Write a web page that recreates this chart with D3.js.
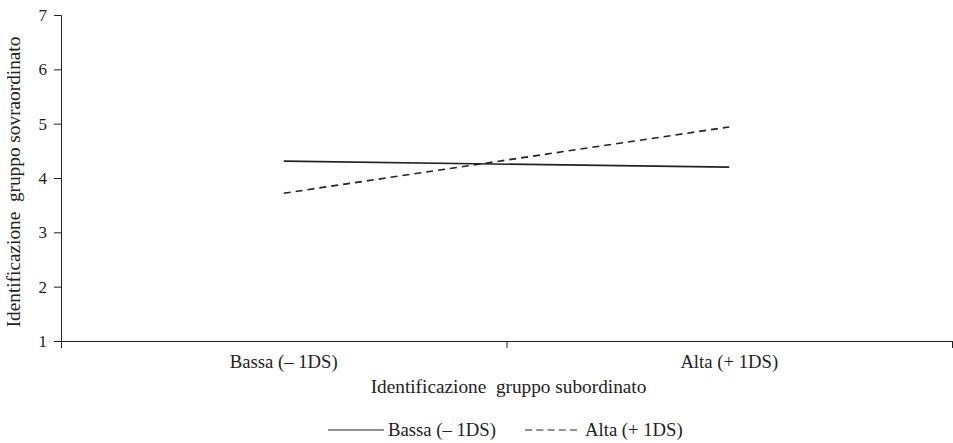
<!DOCTYPE html>
<html>
<head>
<meta charset="utf-8">
<script src="https://cdn.jsdelivr.net/npm/d3@7"></script>
<style>
  body { margin: 0; background: #fff; }
  svg text { font-family: "Liberation Serif", "Times New Roman", Times, "DejaVu Serif", serif !important; fill: #222; }
</style>
</head>
<body>
<div id="chart"></div>
<script>
// data
const categories = ['Bassa (– 1DS)', 'Alta (+ 1DS)'];
const seriesNames = ['Bassa (– 1DS)', 'Alta (+ 1DS)'];
const bassaValues = [4.31, 4.20];
const altaValues = [3.72, 4.94];
const yTicks = [1, 2, 3, 4, 5, 6, 7];

const W = 953, H = 443;
const margin = { top: 15, right: 1, bottom: 102, left: 61 };
const width = W - margin.left - margin.right;
const height = H - margin.top - margin.bottom;
const serif = '"Liberation Serif", "Times New Roman", serif';

const svg = d3.select('#chart').append('svg')
  .attr('width', W)
  .attr('height', H);

const g = svg.append('g')
  .attr('transform', `translate(${margin.left}, ${margin.top})`);

const x = d3.scaleBand()
  .domain(categories)
  .range([0, width]);

// category boundaries for the tick marks
const xEdges = d3.scalePoint()
  .domain(d3.range(categories.length + 1))
  .range([0, width]);

const y = d3.scaleLinear()
  .domain([1, 7])
  .range([height, 0]);

// y axis
const yAxis = g.append('g')
  .call(d3.axisLeft(y).tickValues(yTicks).tickSize(7).tickPadding(7).tickFormat(d3.format('d')));
yAxis.attr('font-family', serif);
yAxis.select('.domain').attr('stroke', '#222');
yAxis.selectAll('.tick line').attr('stroke', '#222');
yAxis.selectAll('text').attr('font-size', '17px').attr('fill', '#222');

// x axis: ticks on boundaries
const xTickAxis = g.append('g')
  .attr('transform', `translate(0, ${height})`)
  .call(d3.axisBottom(xEdges).tickSize(7).tickFormat(''));
xTickAxis.select('.domain').attr('stroke', '#222');
xTickAxis.selectAll('.tick line').attr('stroke', '#222');

// x labels at band centres
const xLabelAxis = g.append('g')
  .attr('transform', `translate(0, ${height})`)
  .call(d3.axisBottom(x).tickSize(0).tickPadding(14));
xLabelAxis.attr('font-family', serif);
xLabelAxis.select('.domain').remove();
xLabelAxis.selectAll('text').attr('font-size', '18.7px').attr('fill', '#222');

// axis titles
g.append('text')
  .attr('x', width / 2 + 2)
  .attr('y', height + 52)
  .attr('text-anchor', 'middle')
  .attr('font-family', serif)
  .attr('font-size', '19.3px')
  .style('white-space', 'pre')
  .text('Identificazione  gruppo subordinato');

g.append('text')
  .attr('transform', 'rotate(-90)')
  .attr('x', -(182 - margin.top))
  .attr('y', -41)
  .attr('text-anchor', 'middle')
  .attr('font-family', serif)
  .attr('font-size', '19.3px')
  .style('white-space', 'pre')
  .text('Identificazione  gruppo sovraordinato');

// lines
const line = d3.line()
  .x((d, i) => x(categories[i]) + x.bandwidth() / 2)
  .y(d => y(d));

const series = [
  { name: seriesNames[0], values: bassaValues, dash: null },
  { name: seriesNames[1], values: altaValues, dash: '7,5' }
];

g.selectAll('.series')
  .data(series)
  .enter().append('path')
  .attr('class', 'series')
  .attr('d', d => line(d.values))
  .attr('fill', 'none')
  .attr('stroke', '#222')
  .attr('stroke-width', 1.6)
  .attr('stroke-dasharray', d => d.dash);

// legend
const legendPos = [328, 525];
const legend = svg.append('g').attr('transform', 'translate(0, 430)');
series.forEach((s, i) => {
  const row = legend.append('g').attr('transform', `translate(${legendPos[i]}, 0)`);
  row.append('line')
    .attr('x1', 0).attr('x2', s.dash ? 52 : 56)
    .attr('stroke', '#222')
    .attr('stroke-width', 1.2)
    .attr('stroke-dasharray', s.dash ? '7,4.25' : null);
  row.append('text')
    .attr('x', s.dash ? 60 : 60)
    .attr('y', 6)
    .attr('font-family', serif)
    .attr('font-size', '18.7px')
    .text(s.name);
});
</script>
</body>
</html>
